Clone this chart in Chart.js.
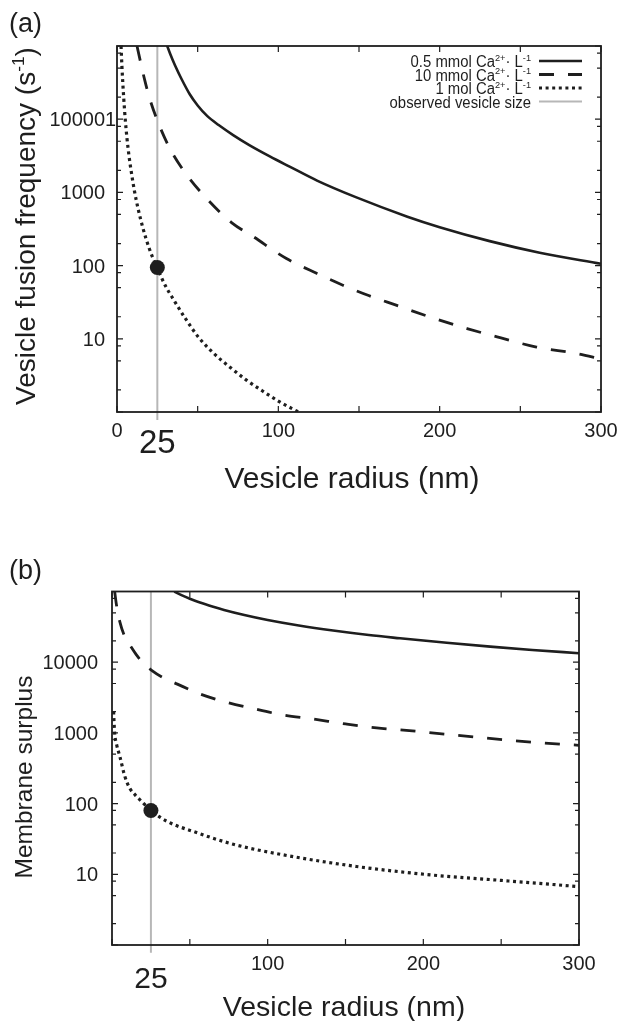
<!DOCTYPE html>
<html>
<head>
<meta charset="utf-8">
<script src="https://cdn.jsdelivr.net/npm/chart.js@4.4.1/dist/chart.umd.min.js"></script>
<style>
    body { margin: 0; background: #fff; width: 620px; height: 1021px; overflow: hidden; position: relative; }
    canvas { position: absolute; left: 0; }
</style>
</head>
<body>
<canvas id="chartA" width="620" height="505" style="top:0"></canvas>
<canvas id="chartB" width="620" height="516" style="top:505px"></canvas>
<script>
// ---- axes ----
const radiusTicks = [0, 50, 100, 150, 200, 250, 300];
const radiusLabelsA = [0, 100, 200, 300];
const radiusLabelsB = [100, 200, 300];
const observedRadius = 25;
const decadeTicks = [1, 10, 100, 1000, 10000, 100000];
const minorTicks = [2, 5, 8, 20, 50, 80, 200, 500, 800, 2000, 5000, 8000, 20000, 50000, 80000];
const freqTickValues = [10, 100, 1000, 10000];
const freqTickLabels = ['10', '100', '1000', '100001'];
const surplusTickValues = [10, 100, 1000, 10000];
const surplusTickLabels = ['10', '100', '1000', '10000'];

// ---- (a) vesicle fusion frequency ----
const freqX_05mM = [30, 33, 36, 40, 45, 50, 56, 63, 72, 82, 95, 107, 124, 148, 180, 200, 231, 262, 300];
const freqY_05mM = [117000, 77800, 54100, 35400, 22100, 15400, 11000, 8320, 6070, 4430, 3080, 2250, 1450, 861, 466, 335, 216, 150, 106];
const freqX_10mM = [12.4, 14.4, 17, 20, 24.7, 32.4, 42.3, 56.1, 71.2, 84.3, 105, 124, 140, 156, 173, 195, 217, 238, 260, 285, 300];
const freqY_10mM = [100000, 63000, 35500, 20000, 10000, 4120, 1850, 800, 384, 250, 125, 78, 54, 39, 28.8, 19.5, 13.8, 10.3, 7.7, 6.3, 5.3];
const freqX_1M = [2.5, 3, 3.5, 4.2, 5.1, 6.2, 7.5, 9, 10.8, 13, 16, 20, 25, 30, 35, 42, 50.4, 60, 70, 80, 90, 100, 110, 118];
const freqY_1M = [100000, 55800, 34000, 19000, 10000, 5450, 3080, 1820, 1050, 608, 330, 171, 92, 53, 34.5, 19.5, 10.6, 6.3, 4.1, 2.75, 1.95, 1.41, 1.07, 0.87];
const freqObserved = 94;

// ---- (b) membrane surplus ----
const surplusX_05mM = [40, 45, 50, 56.5, 65, 72, 85, 100, 120, 142, 165, 185, 215, 243, 270, 300];
const surplusY_05mM = [100000, 88000, 79000, 69800, 60800, 54800, 46500, 39500, 33000, 28000, 24200, 21800, 18800, 16600, 14900, 13400];
const surplusX_10mM = [1.7, 3, 5, 8.2, 12, 15.7, 21, 25, 33, 42, 50, 56.5, 71.5, 91, 109, 129, 150, 170, 191, 232, 275, 300];
const surplusY_10mM = [100000, 62000, 37500, 23000, 16800, 12700, 9200, 7800, 6000, 4900, 4080, 3550, 2790, 2200, 1810, 1575, 1340, 1175, 1077, 879, 723, 668];
const surplusX_1M = [1, 1.7, 3, 5, 8.2, 11.4, 15, 17.8, 20, 25, 35, 54.3, 77.9, 108, 157, 207, 250, 300];
const surplusY_1M = [2000, 1000, 680, 468, 245, 165, 132, 114, 102, 80, 56.6, 38.9, 26.6, 19.2, 12.9, 9.7, 8.2, 6.7];
const surplusObserved = 80;

// legend text, superscripts marked with sup
const legendRows = [
    [{ t: '0.5 mmol Ca' }, { t: '2+', sup: true }, { t: '· L' }, { t: '-1', sup: true }],
    [{ t: '10 mmol Ca' }, { t: '2+', sup: true }, { t: '· L' }, { t: '-1', sup: true }],
    [{ t: '1 mol Ca' }, { t: '2+', sup: true }, { t: '· L' }, { t: '-1', sup: true }],
    [{ t: 'observed vesicle size' }]
];

const FONT = "'Liberation Sans', Arial, sans-serif";
const INK = '#1e1e1e';
const GREY = '#b7b7b7';

function pts(xs, ys) {
    return xs.map((x, i) => ({ x: x, y: ys[i] }));
}

// draws text runs (with superscripts), squeeze narrows the glyphs horizontally
function drawParts(ctx, parts, x, y, align, size, squeeze) {
    const sq = squeeze || 1;
    const widths = parts.map(p => {
        ctx.font = (p.sup ? size * 0.62 : size) + 'px ' + FONT;
        return ctx.measureText(p.t).width;
    });
    const total = widths.reduce((s, w) => s + w, 0) * sq;
    let start = align === 'right' ? x - total : align === 'center' ? x - total / 2 : x;
    ctx.save();
    ctx.translate(start, y);
    ctx.scale(sq, 1);
    ctx.textAlign = 'left';
    ctx.textBaseline = 'alphabetic';
    let cx = 0;
    parts.forEach((p, i) => {
        ctx.font = (p.sup ? size * 0.62 : size) + 'px ' + FONT;
        ctx.fillText(p.t, cx, p.sup ? -size * 0.4 : 0);
        cx += widths[i];
    });
    ctx.restore();
}

// gnuplot style frame, inward ticks, labels and key
const gnuplotFrame = {
    id: 'gnuplot',
    afterDraw(chart, args, o) {
        const ctx = chart.ctx, a = chart.chartArea;
        const xs = chart.scales.x, ys = chart.scales.y;
        ctx.save();
        ctx.strokeStyle = INK;
        ctx.fillStyle = INK;
        ctx.setLineDash([]);

        ctx.lineWidth = 1.2;
        ctx.beginPath();
        radiusTicks.forEach(v => {
            const px = xs.getPixelForValue(v);
            ctx.moveTo(px, a.bottom); ctx.lineTo(px, a.bottom - 6);
            ctx.moveTo(px, a.top); ctx.lineTo(px, a.top + 6);
        });
        decadeTicks.concat(minorTicks).forEach(v => {
            const py = ys.getPixelForValue(v);
            const len = decadeTicks.includes(v) ? 6 : 4;
            ctx.moveTo(a.left, py); ctx.lineTo(a.left + len, py);
            ctx.moveTo(a.right, py); ctx.lineTo(a.right - len, py);
        });
        ctx.stroke();

        ctx.lineWidth = 1.8;
        ctx.strokeRect(a.left, a.top, a.right - a.left, a.bottom - a.top);

        // y tick labels, aligned on the digits of the value
        ctx.font = '20px ' + FONT;
        ctx.textBaseline = 'alphabetic';
        ctx.textAlign = 'left';
        o.yValues.forEach((v, i) => {
            const py = ys.getPixelForValue(v);
            const w = ctx.measureText(String(v)).width;
            ctx.fillText(o.yLabels[i], o.yLabelRight - w, py + 7);
        });

        // x tick labels
        ctx.textAlign = 'center';
        o.xLabels.forEach(v => {
            ctx.fillText(String(v), xs.getPixelForValue(v), o.xLabelBaseline);
        });
        ctx.font = o.bigSize + 'px ' + FONT;
        ctx.fillText(String(observedRadius), xs.getPixelForValue(observedRadius), o.bigBaseline);

        // axis titles
        drawParts(ctx, [{ t: 'Vesicle radius (nm)' }], o.xTitleX, o.xTitleBaseline, 'center', o.xTitleSize);
        ctx.save();
        ctx.translate(o.yTitleBaseline, o.yTitleY);
        ctx.rotate(-Math.PI / 2);
        drawParts(ctx, o.yTitle, 0, 0, 'center', o.yTitleSize);
        ctx.restore();

        // panel letter
        drawParts(ctx, [{ t: o.letter }], o.letterX, o.letterBaseline, 'left', 27);

        // key
        if (o.legend) {
            legendRows.forEach((row, i) => {
                const base = 67 + i * 13.5;
                drawParts(ctx, row, 531, base, 'right', 16, 0.93);
                const ds = chart.data.datasets[i];
                ctx.strokeStyle = ds.borderColor;
                ctx.lineWidth = ds.borderWidth;
                ctx.lineCap = 'butt';
                ctx.setLineDash(ds.borderDash || []);
                ctx.beginPath();
                ctx.moveTo(539, base - 6);
                ctx.lineTo(582, base - 6);
                ctx.stroke();
            });
        }
        ctx.restore();
    }
};

function buildChart(id, series, observed, frame, padding) {
    const line = (xs, ys, dash, width) => ({
        data: pts(xs, ys),
        borderColor: INK,
        borderWidth: width,
        borderDash: dash,
        borderCapStyle: 'butt',
        cubicInterpolationMode: 'monotone',
        pointRadius: 0,
        fill: false,
        order: 1
    });
    return new Chart(document.getElementById(id), {
        type: 'line',
        data: {
            datasets: [
                line(series[0], series[1], [], 2.6),
                line(series[2], series[3], [15, 14], 2.8),
                line(series[4], series[5], [3, 3.6], 3.2),
                {
                    data: [{ x: observedRadius, y: 0.78 }, { x: observedRadius, y: 100000 }],
                    borderColor: GREY,
                    borderWidth: 2,
                    pointRadius: 0,
                    clip: false,
                    order: 5
                },
                {
                    data: [{ x: observedRadius, y: observed }],
                    showLine: false,
                    pointRadius: 7.5,
                    pointBackgroundColor: INK,
                    pointBorderWidth: 0,
                    order: 0
                }
            ]
        },
        options: {
            responsive: false,
            animation: false,
            devicePixelRatio: 1,
            layout: { padding: padding },
            plugins: {
                legend: { display: false },
                tooltip: { enabled: false },
                gnuplot: frame
            },
            scales: {
                x: { type: 'linear', min: 0, max: 300, display: false },
                y: { type: 'logarithmic', min: 1, max: 100000, display: false }
            }
        },
        plugins: [gnuplotFrame]
    });
}

buildChart('chartA',
    [freqX_05mM, freqY_05mM, freqX_10mM, freqY_10mM, freqX_1M, freqY_1M],
    freqObserved,
    {
        yValues: freqTickValues, yLabels: freqTickLabels, yLabelRight: 105,
        xLabels: radiusLabelsA, xLabelBaseline: 437,
        bigSize: 33, bigBaseline: 453,
        xTitleX: 352, xTitleBaseline: 488, xTitleSize: 30,
        yTitle: [{ t: 'Vesicle fusion frequency (s' }, { t: '-1', sup: true }, { t: ')' }],
        yTitleBaseline: 35, yTitleY: 226, yTitleSize: 28,
        letter: '(a)', letterX: 9, letterBaseline: 32,
        legend: true
    },
    { left: 117, top: 46, right: 19, bottom: 93 });

buildChart('chartB',
    [surplusX_05mM, surplusY_05mM, surplusX_10mM, surplusY_10mM, surplusX_1M, surplusY_1M],
    surplusObserved,
    {
        yValues: surplusTickValues, yLabels: surplusTickLabels, yLabelRight: 98,
        xLabels: radiusLabelsB, xLabelBaseline: 465,
        bigSize: 30, bigBaseline: 483,
        xTitleX: 344, xTitleBaseline: 511, xTitleSize: 28.5,
        yTitle: [{ t: 'Membrane surplus' }],
        yTitleBaseline: 32, yTitleY: 272, yTitleSize: 24.5,
        letter: '(b)', letterX: 9, letterBaseline: 73.5,
        legend: false
    },
    { left: 112, top: 86.5, right: 41, bottom: 76 });
</script>
</body>
</html>
